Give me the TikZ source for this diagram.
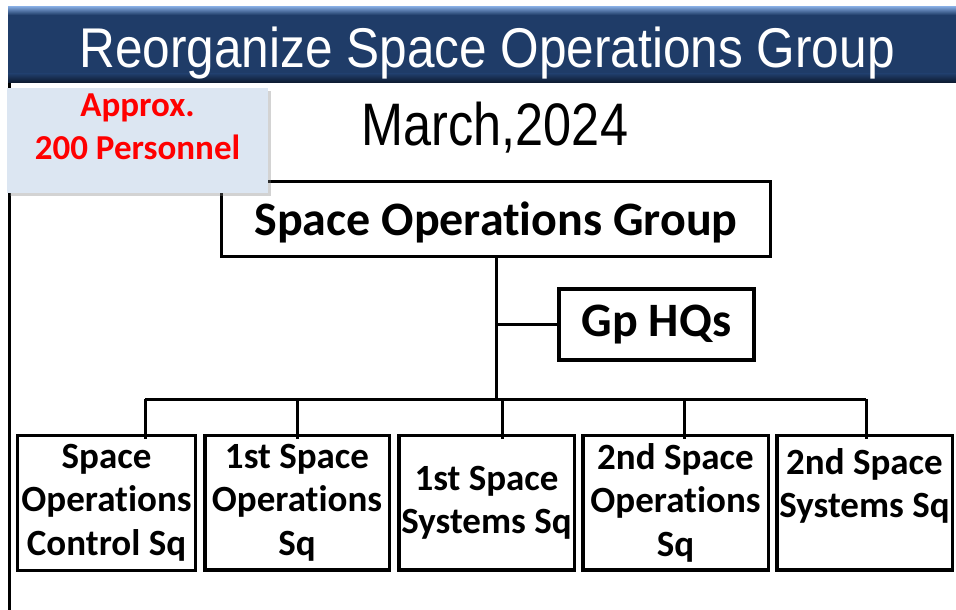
\documentclass[tikz,border=0pt]{standalone}
\usepackage{fontspec}
\setmainfont{Carlito}[Ligatures=NoCommon]
\newfontfamily\headfont{Liberation Sans}
\usepackage{xcolor}
\usepackage{tikz}
\usetikzlibrary{positioning,shadows}
\definecolor{hdnavy}{RGB}{31,60,104}
\definecolor{hdlight}{RGB}{125,163,216}
\definecolor{hddark}{RGB}{12,24,44}
\definecolor{notebg}{RGB}{220,230,242}

\begin{document}
\begin{tikzpicture}[x=1pt,y=-1pt,
      node distance=6pt,
      orgbox/.style={draw=black,line width=3pt,fill=white,align=center,
                     inner sep=0pt,font=\fontsize{48}{56}\selectfont\bfseries},
      sqbox/.style={draw=black,line width=3.5pt,fill=white,align=center,
                    minimum height=134.5pt,inner sep=0pt,
                    font=\fontsize{37}{43.5}\selectfont\bfseries},
      conn/.style={black,line width=3pt}
    ]
      \useasboundingbox (0,0) rectangle (956,610);
      % title bar
      \fill[hdnavy] (8,7) rectangle (956,82);
      \shade[top color=hdlight,bottom color=hdnavy] (8,7) rectangle (956,15);
      \shade[top color=hdnavy,bottom color=hddark] (8,74) rectangle (956,83);
      \node[anchor=base,text=white,font=\headfont\fontsize{56}{60}\selectfont]
        (title) at (487,68) {\scalebox{0.885}[1]{Reorganize Space Operations Group}};
      \coordinate (edgetop) at (9.5,83);
      \coordinate (edgebot) at (9.5,610);
      \draw[conn] (edgetop) -- (edgebot);
      \node[anchor=base,font=\headfont\fontsize{60}{64}\selectfont]
        (date) at (495,145) {\scalebox{0.84}[1]{March,2024}};
      % group level
      \node[orgbox,minimum width=549pt,minimum height=75pt,text height=41pt]
        (sog) at (496,219) {Space Operations Group};
      \node[orgbox,line width=4pt,minimum width=195pt,minimum height=71pt]
        (hq) at (656.5,324.5) {Gp HQs};
      \node[fill=notebg,minimum width=261pt,minimum height=105pt,inner sep=0pt,
            drop shadow={shadow xshift=3pt,shadow yshift=-3pt,opacity=0.35},
            text=red,align=center,text depth=27pt,
            font=\fontsize{35}{43}\selectfont\bfseries]
        (note) at (137.5,140.5) {Approx.\\200 Personnel};
      % squadrons
      \node[sqbox,line width=3pt,minimum width=178pt,anchor=north west]
        (sq1) at (16,434) {Space\\Operations\\Control Sq};
      \node[sqbox,minimum width=184.5pt,right=6pt of sq1] (sq2) {1st Space\\Operations\\Sq};
      \node[sqbox,minimum width=175.5pt,right=6pt of sq2] (sq3) {1st Space\\Systems Sq};
      \node[sqbox,minimum width=185.5pt,right=5pt of sq3] (sq4) {2nd Space\\Operations\\Sq};
      \node[sqbox,minimum width=175.5pt,right=5pt of sq4,text depth=39pt]
        (sq5) {2nd Space\\Systems Sq};
      % connectors
      \coordinate (barL) at (145,399);
      \coordinate (barR) at (866,399);
      \draw[conn] (sog.south) -- (sog.south |- barL);
      \draw[conn] (hq.west) -- (hq.west -| sog.south);
      \draw[conn] (barL) -- (barR);
      \foreach \x/\b in {145/sq1,297/sq2,502/sq3,684/sq4,866/sq5}{
        \coordinate (d\b) at (\x,399);
        \draw[conn] (d\b) -- ([yshift=-5pt]d\b |- \b.north);
      }
    \end{tikzpicture}
\end{document}
